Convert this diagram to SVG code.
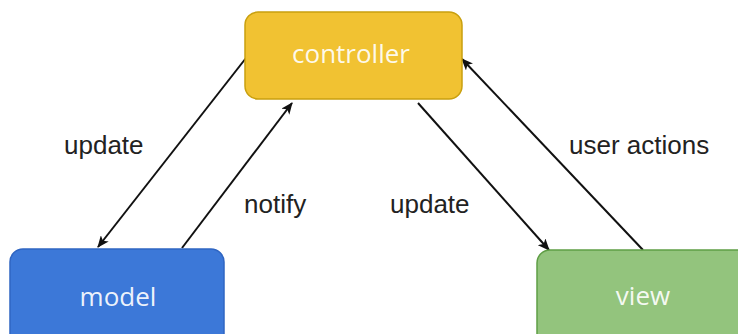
<svg xmlns="http://www.w3.org/2000/svg" width="738" height="334" viewBox="0 0 738 334">
  <defs>
    <style>
      .box-text { font-family: "Open Sans", "Liberation Sans", sans-serif; font-size: 26px; fill: #ffffff; fill-opacity: 0.92; text-anchor: middle; }
      .edge-label { font-family: "Liberation Sans", Arial, sans-serif; font-size: 26px; fill: #222222; }
      .edge { stroke: #111111; stroke-width: 2; fill: none; marker-end: url(#arrow); }
    </style>
    <marker id="arrow" viewBox="0 0 12 10" refX="11" refY="5" markerWidth="12" markerHeight="10" markerUnits="userSpaceOnUse" orient="auto">
      <path d="M0,0 L12,5 L0,10 L3,5 Z" fill="#111111"/>
    </marker>
  </defs>

  <rect width="738" height="334" fill="#ffffff"/>

  <g id="connectors">
    <line class="edge" x1="246" y1="58" x2="98" y2="247"/>
    <line class="edge" x1="182" y1="248" x2="292" y2="103"/>
    <line class="edge" x1="418" y1="103" x2="549" y2="250"/>
    <line class="edge" x1="643" y1="250" x2="462" y2="59"/>
  </g>

  <g id="labels">
    <text class="edge-label" x="64" y="154">update</text>
    <text class="edge-label" x="244" y="213">notify</text>
    <text class="edge-label" x="390" y="213">update</text>
    <text class="edge-label" x="569" y="154">user actions</text>
  </g>

  <g id="controller">
    <rect x="245" y="12" width="217" height="87" rx="13" fill="#f1c232" stroke="#c9a00f" stroke-width="1.5"/>
    <text class="box-text" x="351" y="63">controller</text>
  </g>

  <g id="model">
    <rect x="10" y="249" width="214" height="100" rx="13" fill="#3c78d8" stroke="#2f65c2" stroke-width="1.5"/>
    <text class="box-text" x="118" y="306">model</text>
  </g>

  <g id="view">
    <rect x="537" y="250" width="220" height="100" rx="13" fill="#93c47d" stroke="#5f9e45" stroke-width="1.5"/>
    <text class="box-text" x="643" y="305">view</text>
  </g>
</svg>
